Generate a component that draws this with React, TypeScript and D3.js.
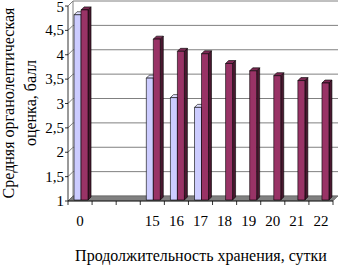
import * as d3 from "d3";

// storage days (two blank slots between 0 and 15 as in the source chart)
const days = ["0", "", "", "15", "16", "17", "18", "19", "20", "21", "22"];
// light series (control) and dark series (experiment)
const control: (number | null)[] = [4.8, null, null, 3.5, 3.1, 2.9, null, null, null, null, null];
const experiment: (number | null)[] = [4.9, null, null, 4.3, 4.05, 4.0, 3.8, 3.65, 3.55, 3.45, 3.4];
const yTicks = [1, 1.5, 2, 2.5, 3, 3.5, 4, 4.5, 5];

const width = 338;
const height = 265;
const DX = 5; // wall depth offset
const DY = -5;
const font = '"Liberation Serif", "DejaVu Serif", "Times New Roman", serif';

const App = () => {
  const x = d3
    .scaleBand<number>()
    .domain(d3.range(days.length))
    .range([68, 333])
    .paddingInner(0.42)
    .paddingOuter(0.21);
  const sub = d3.scaleBand<string>().domain(["c", "e"]).range([0, x.bandwidth()]);
  const y = d3.scaleLinear().domain([1, 5]).range([201, 6]);
  const step = x.step();
  const x0 = 68;
  const x1 = 333;

  // bar depth: z from 0.2 to 0.8 of wall depth
  const bz0 = 0.2;
  const bz1 = 0.8;

  const fmt = (v: number) => String(v).replace(".", ",");

  const bar = (i: number, key: string, v: number | null, front: string, side: string, top: string) => {
    if (v == null) return null;
    const bx = (x(i) as number) + sub(key)! + bz0 * DX;
    const w = sub.bandwidth();
    const yb = y(1) + bz0 * DY;
    const yt = y(v) + bz0 * DY;
    const ddx = (bz1 - bz0) * DX;
    const ddy = (bz1 - bz0) * DY;
    return (
      <g key={key + i} stroke="#000" strokeWidth={0.6} strokeLinejoin="round">
        <polygon points={`${bx + w},${yb} ${bx + w + ddx},${yb + ddy} ${bx + w + ddx},${yt + ddy} ${bx + w},${yt}`} fill={side} />
        <polygon points={`${bx},${yt} ${bx + ddx},${yt + ddy} ${bx + w + ddx},${yt + ddy} ${bx + w},${yt}`} fill={top} />
        <rect x={bx} y={yt} width={w} height={yb - yt} fill={front} />
      </g>
    );
  };

  const ts = { fontFamily: font, fontSize: 15 };
  const tt = { fontFamily: font, fontSize: 16 };

  return (
    <svg
      width={width}
      height={height}
      style={{ position: "absolute", left: 0, top: 0, background: "#fff" }}
    >
      {/* back wall gridlines */}
      {yTicks.map((t) => (
        <g key={"g" + t} stroke="#808080" strokeWidth={1}>
          <line x1={x0 + DX} x2={x1 + DX} y1={y(t) + DY} y2={y(t) + DY} />
          <line x1={x0} x2={x0 + DX} y1={y(t)} y2={y(t) + DY} />
        </g>
      ))}
      {/* left wall edges */}
      <line x1={x0 + DX} x2={x0 + DX} y1={y(5) + DY} y2={y(1) + DY} stroke="#808080" />
      {/* floor */}
      <polygon
        points={`${x0},${y(1)} ${x1},${y(1)} ${x1 + DX},${y(1) + DY} ${x0 + DX},${y(1) + DY}`}
        fill="#808080"
        stroke="#606060"
        strokeWidth={0.6}
      />
      {/* bars */}
      {days.map((_, i) => (
        <g key={"b" + i}>
          {bar(i, "c", control[i], "#CCCCFF", "#8F8FB3", "#E0E0FF")}
          {bar(i, "e", experiment[i], "#993366", "#4A1830", "#7A2952")}
        </g>
      ))}
      {/* front y axis */}
      <line x1={x0} x2={x0} y1={y(5)} y2={y(1)} stroke="#000" strokeWidth={0.8} />
      {yTicks.map((t) => (
        <g key={"t" + t}>
          <line x1={x0 - 3} x2={x0} y1={y(t)} y2={y(t)} stroke="#000" strokeWidth={0.8} />
          <text x={x0 - 4} y={Math.max(y(t) + 5, 12)} textAnchor="end" style={ts}>
            {fmt(t)}
          </text>
        </g>
      ))}
      {/* front x axis */}
      <line x1={x0} x2={x1} y1={y(1)} y2={y(1)} stroke="#000" strokeWidth={0.8} />
      {d3.range(days.length + 1).map((i) => (
        <line key={"xt" + i} x1={x0 + i * step} x2={x0 + i * step} y1={y(1)} y2={y(1) + 4} stroke="#000" strokeWidth={0.8} />
      ))}
      {days.map((d, i) => (
        <text key={"xl" + i} x={(x(i) as number) + x.bandwidth() / 2} y={226} textAnchor="middle" style={ts}>
          {d}
        </text>
      ))}
      {/* axis titles */}
      <text x={201} y={261} textAnchor="middle" style={tt}>
        Продолжительность хранения, сутки
      </text>
      <text transform="translate(14,103) rotate(-90)" textAnchor="middle" style={tt}>
        Средняя органолептическая
      </text>
      <text transform="translate(36,103) rotate(-90)" textAnchor="middle" style={tt}>
        оценка, балл
      </text>
    </svg>
  );
};

export default App;
